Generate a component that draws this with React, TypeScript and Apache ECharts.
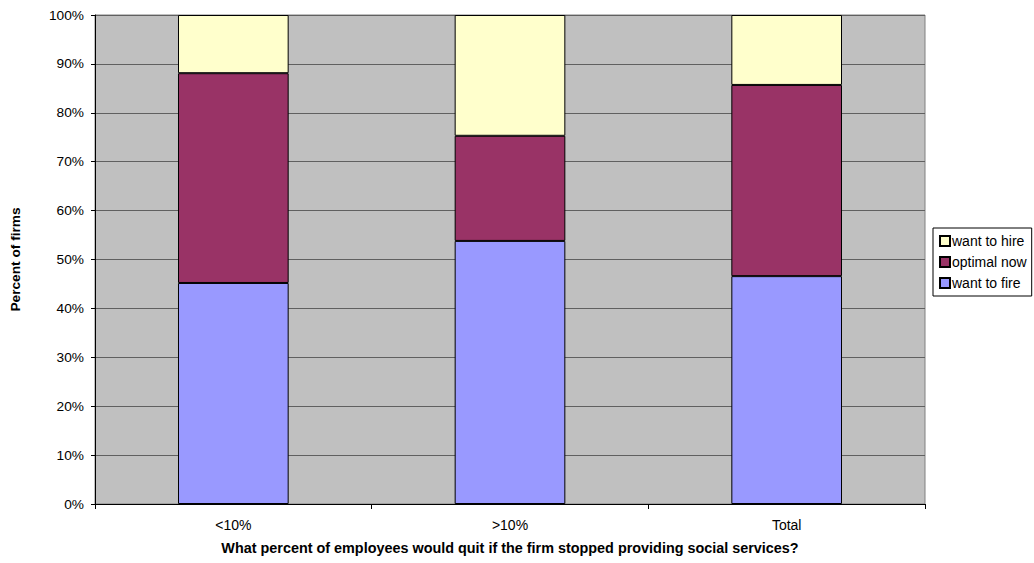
import React, { useEffect, useRef } from "react";
import * as echarts from "echarts";

const categories = ["<10%", ">10%", "Total"];
const wantToFire = [45.2, 53.8, 46.6];
const optimalNow = [42.9, 21.5, 39.1];
const wantToHire = [11.9, 24.7, 14.3];
const yTicks = [0, 10, 20, 30, 40, 50, 60, 70, 80, 90, 100];

export default function App() {
  const ref = useRef<HTMLDivElement>(null);
  useEffect(() => {
    if (!ref.current) return;
    const chart = echarts.init(ref.current, null, { renderer: "svg" });
    const font = "'Liberation Sans', Arial, sans-serif";
    const barBase = {
      type: "bar" as const,
      stack: "total",
      barCategoryGap: "60%",
    };
    chart.setOption({
      animation: false,
      textStyle: { fontFamily: font },
      grid: {
        left: 95,
        top: 15,
        right: 109,
        bottom: 59,
        outerBoundsMode: "none",
        containLabel: false,
        show: true,
        backgroundColor: "#c0c0c0",
        borderColor: "#808080",
        borderWidth: 1,
      },
      legend: {
        orient: "vertical",
        left: 933,
        top: 228,
        data: ["want to hire", "optimal now", "want to fire"],
        itemWidth: 10,
        itemHeight: 10,
        itemGap: 7,
        icon: "rect",
        padding: [6, 5, 6, 6],
        borderColor: "#000",
        borderWidth: 1,
        textStyle: { fontFamily: font, fontSize: 14, color: "#000", padding: [0, 0, 0, -3] },
      },
      xAxis: {
        type: "category",
        data: categories,
        name: "What percent of employees would quit if the firm stopped providing social services?",
        nameLocation: "middle",
        nameGap: 37,
        nameTextStyle: { fontFamily: font, fontSize: 14.4, fontWeight: "bold", color: "#000" },
        axisLine: { lineStyle: { color: "#000", width: 1 } },
        axisTick: { show: true, length: 5, lineStyle: { color: "#000" } },
        axisLabel: { fontFamily: font, fontSize: 14, color: "#000", margin: 14 },
      },
      yAxis: {
        type: "value",
        min: yTicks[0],
        max: yTicks[yTicks.length - 1],
        interval: 10,
        name: "Percent of firms",
        nameLocation: "middle",
        nameGap: 73,
        nameTextStyle: { fontFamily: font, fontSize: 13.7, fontWeight: "bold", color: "#000" },
        axisLine: { show: true, lineStyle: { color: "#000", width: 1 } },
        axisTick: { show: true, length: 4, lineStyle: { color: "#000" } },
        axisLabel: { fontFamily: font, fontSize: 13.7, color: "#000", formatter: "{value}%", margin: 11 },
        splitLine: { show: true, lineStyle: { color: "#606060", width: 1 } },
      },
      series: [
        {
          ...barBase,
          name: "want to fire",
          data: wantToFire,
          itemStyle: { color: "#9999ff", borderColor: "#000", borderWidth: 1 },
        },
        {
          ...barBase,
          name: "optimal now",
          data: optimalNow,
          itemStyle: { color: "#993366", borderColor: "#000", borderWidth: 1 },
        },
        {
          ...barBase,
          name: "want to hire",
          data: wantToHire,
          itemStyle: { color: "#ffffcc", borderColor: "#000", borderWidth: 1 },
        },
      ],
    });
    return () => chart.dispose();
  }, []);
  return (
    <div
      ref={ref}
      style={{ position: "fixed", left: 0, top: 0, width: 1034, height: 563, background: "#fff" }}
    />
  );
}
